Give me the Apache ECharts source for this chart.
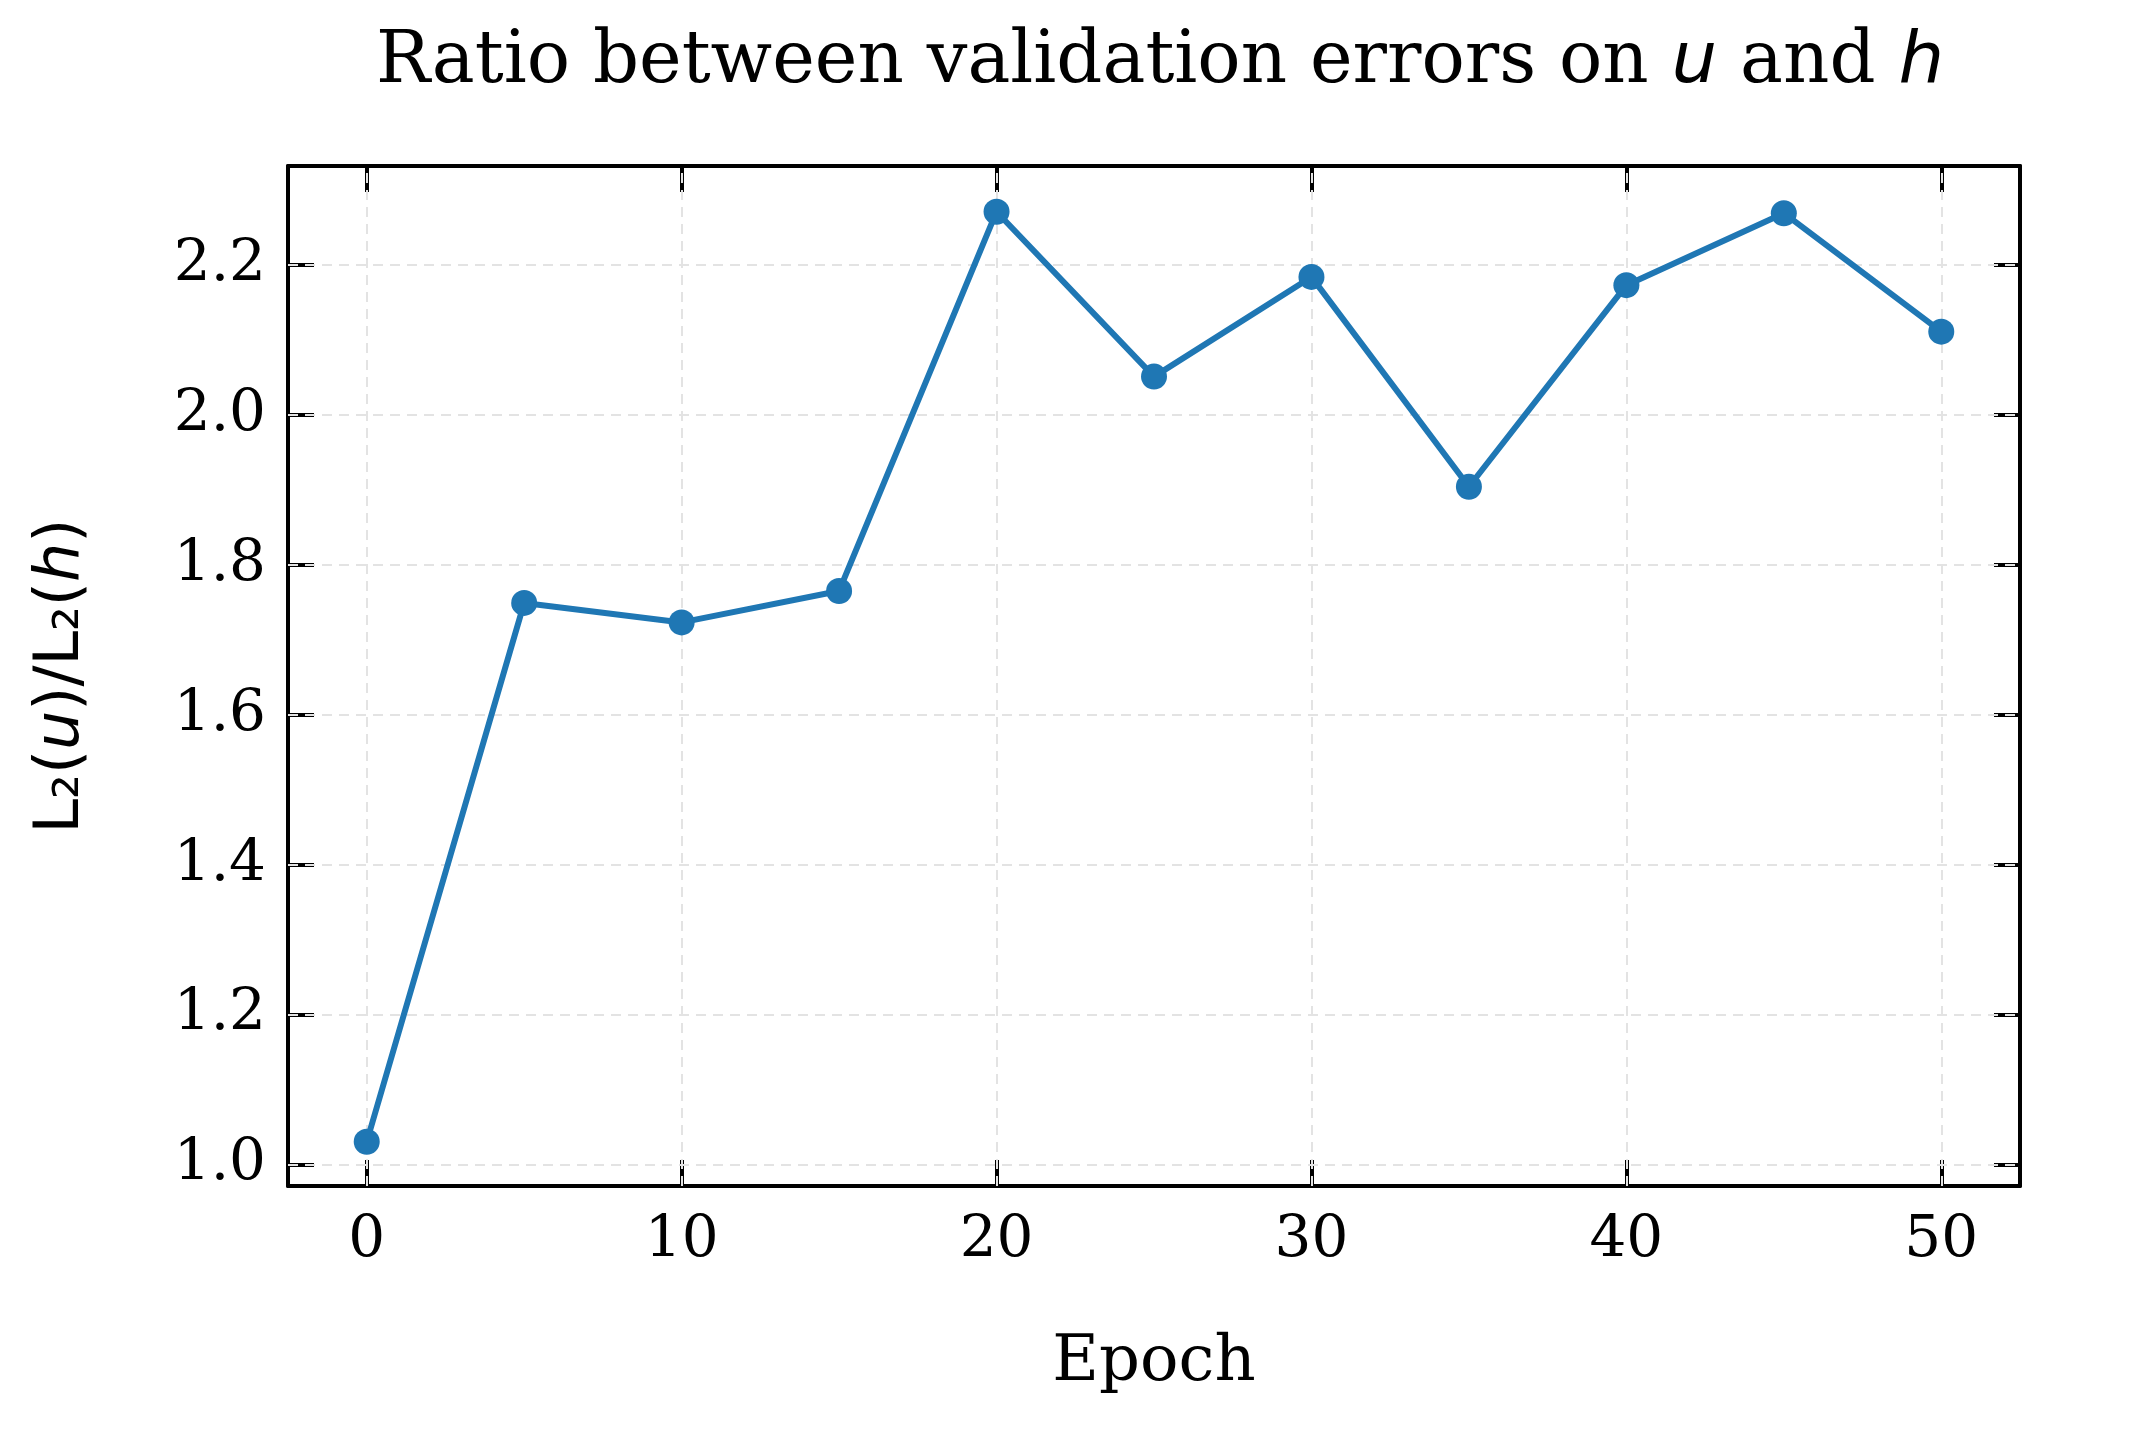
<!DOCTYPE html>
<html><head><meta charset="utf-8">
<script src="https://cdn.jsdelivr.net/npm/echarts@6/dist/echarts.min.js"></script>
<style>html,body{margin:0;padding:0;background:#fff}#c{width:2131px;height:1437px}</style>
</head><body><div id="c"></div>
<script>
const epochs = [0,5,10,15,20,25,30,35,40,45,50];
const ratios = [1.03,1.749,1.723,1.765,2.271,2.051,2.184,1.904,2.173,2.269,2.111];
const xTicks = [0,10,20,30,40,50];
const yTicks = [1.0,1.2,1.4,1.6,1.8,2.0,2.2];
const FONT = 'DejaVu Serif';
const xMin=-2.5,xMax=52.5,yMin=0.971,yMax=2.332;
const chart = echarts.init(document.getElementById('c'));
const frame = {show:true,onZero:false,lineStyle:{color:'#000',width:4}};
const tick = (vals)=>({show:true,inside:true,length:26,customValues:vals,lineStyle:{color:'#000',width:4}});
const gridLines = [];
xTicks.forEach(v=>gridLines.push({xAxis:v}));
yTicks.forEach(v=>gridLines.push({yAxis:v}));
chart.setOption({
  backgroundColor:'#fff',
  animation:false,
  title:{text:'{n|Ratio between validation errors on }{i|u}{n| and }{i|h}',left:1155,top:22,textAlign:'center',
    textStyle:{fontWeight:'normal',rich:{n:{fontFamily:FONT,fontWeight:'normal',fontSize:72,color:'#000'},i:{fontFamily:'DejaVu Sans',fontWeight:'normal',fontStyle:'oblique',fontSize:72,color:'#000'}}}},
  grid:{left:288,right:111,top:166,bottom:251},
  xAxis:[
    {type:'value',min:xMin,max:xMax,position:'bottom',axisLine:frame,axisTick:tick(xTicks),splitLine:{show:false},
     axisLabel:{customValues:xTicks,fontFamily:FONT,fontSize:58,color:'#000',margin:26},
     name:'Epoch',nameLocation:'middle',nameGap:145,nameTextStyle:{fontFamily:FONT,fontSize:64,color:'#000'}},
    {type:'value',min:xMin,max:xMax,position:'top',axisLine:frame,axisTick:tick(xTicks),axisLabel:{show:false},splitLine:{show:false}}
  ],
  yAxis:[
    {type:'value',min:yMin,max:yMax,position:'left',axisLine:frame,axisTick:tick(yTicks),splitLine:{show:false},
     axisLabel:{customValues:yTicks,fontFamily:FONT,fontSize:58,color:'#000',margin:22,formatter:v=>v.toFixed(1)},
     name:'{n|L₂(}{i|u}{n|)/L₂(}{i|h}{n|)}',nameLocation:'middle',nameGap:195,nameRotate:90,
     nameTextStyle:{rich:{n:{fontFamily:'DejaVu Sans',fontSize:62,color:'#000'},i:{fontFamily:'DejaVu Sans',fontStyle:'oblique',fontSize:62,color:'#000'}}}},
    {type:'value',min:yMin,max:yMax,position:'right',axisLine:frame,axisTick:tick(yTicks),axisLabel:{show:false},splitLine:{show:false}}
  ],
  series:[{
    type:'line',data:epochs.map((e,i)=>[e,ratios[i]]),
    lineStyle:{color:'#1f77b4',width:6},itemStyle:{color:'#1f77b4'},
    symbol:'circle',symbolSize:26,z:5,
    markLine:{silent:true,symbol:'none',label:{show:false},animation:false,
      lineStyle:{color:'#e3e3e3',width:2,type:[10,7]},data:gridLines,z:1}
  }]
});
</script></body></html>
